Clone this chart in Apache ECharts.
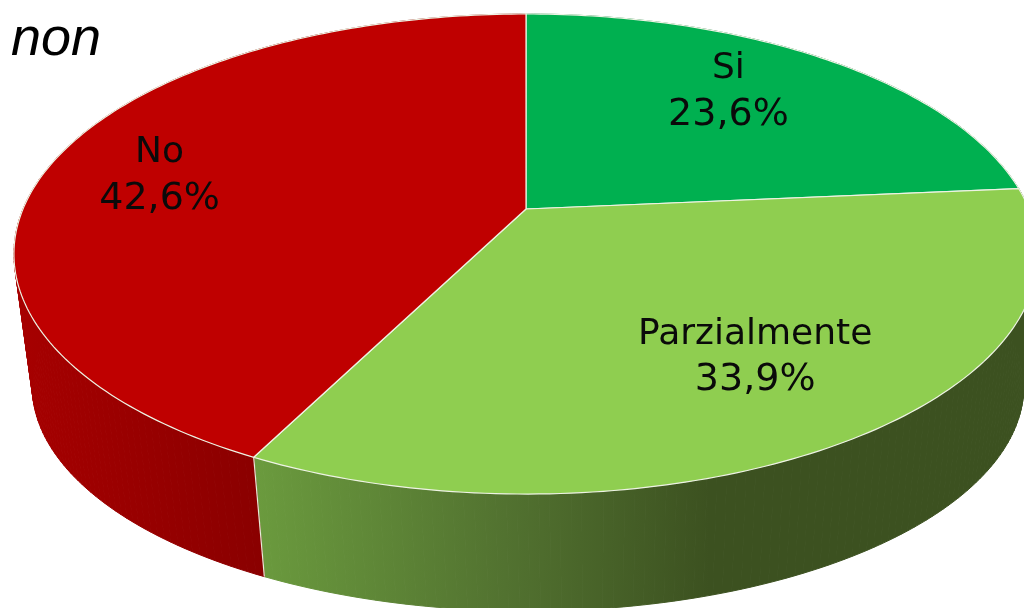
<!DOCTYPE html>
<html>
<head>
<meta charset="utf-8">
<style>html,body{margin:0;padding:0;background:#fff}#c{width:1024px;height:608px}</style>
<script src="https://cdn.jsdelivr.net/npm/echarts@6/dist/echarts.min.js"></script>
</head>
<body>
<div id="c"></div>
<script>
const categories = ['Si', 'Parzialmente', 'No'];
const shares = [23.6, 33.9, 42.6];
const heading = 'non';

const topColors = ['#00B050', '#8FCE50', '#BF0000'];
const wallStops = [
  [[0, '#00803a'], [1, '#00602b']],
  [[0, '#6b9b3e'], [0.55, '#527230'], [1, '#3c5120']],
  [[0, '#a60000'], [1, '#8a0000']]
];
const wallSpan = [[526, 1024], [254, 710], [20, 262]];
// Perspective model of the disc: rim of the top face and rim of the base
const topRim = { cx: 526, cy: 209, a: 503, b: 231.6, k: 0.1875 };
const baseRim = { cx: 528, cy: 344, a: 487, b: 217, k: 0.1875 };
const labelLayout = [
  { r: 0.65, dx: 0, dy: -15 },
  { r: 0.65, dx: 25, dy: 10 },
  { r: 0.75, dx: -11, dy: 6 }
];

const total = shares.reduce((s, v) => s + v, 0);
const startAngles = [];
shares.reduce((acc, v, i) => { startAngles[i] = acc; return acc + v / total * Math.PI * 2; }, 0);

function project(rim, theta, r) {
  const u = Math.sin(theta) * r, v = Math.cos(theta) * r, w = 1 + rim.k * v;
  return [rim.cx + rim.a * u / w, rim.cy - rim.b * v / w];
}
function arc(rim, i) {
  const a0 = startAngles[i], a1 = a0 + shares[i] / total * Math.PI * 2;
  const n = Math.ceil((a1 - a0) / (Math.PI / 180));
  const pts = [];
  for (let s = 0; s <= n; s++) pts.push(project(rim, a0 + (a1 - a0) * s / n, 1));
  return pts;
}
function renderWall(params) {
  const i = params.dataIndex;
  const span = wallSpan[i];
  const top = arc(topRim, i), base = arc(baseRim, i);
  const grad = new echarts.graphic.LinearGradient(span[0], 0, span[1], 0,
    wallStops[i].map(s => ({ offset: s[0], color: s[1] })), true);
  const children = [];
  for (let j = 0; j < top.length - 1; j++) {
    children.push({
      type: 'polygon', silent: true,
      shape: { points: [top[j], top[j + 1], base[j + 1], base[j]] },
      style: { fill: grad, stroke: grad, lineWidth: 1 }
    });
  }
  children.push({
    type: 'line', silent: true, z2: 5,
    shape: { x1: top[0][0], y1: top[0][1], x2: base[0][0], y2: base[0][1] },
    style: { stroke: '#e6ecd8', lineWidth: 1.2 }
  });
  return { type: 'group', children };
}
function renderTop(params) {
  const i = params.dataIndex;
  return {
    type: 'polygon',
    silent: true,
    shape: { points: [project(topRim, 0, 0)].concat(arc(topRim, i)) },
    style: { fill: topColors[i], stroke: '#eef3e4', lineWidth: 1.2 }
  };
}
function renderLabel(params) {
  const i = params.dataIndex;
  const mid = startAngles[i] + shares[i] / total * Math.PI;
  const L = labelLayout[i];
  const p = project(topRim, mid, L.r);
  const pct = shares[i].toFixed(1).replace('.', ',') + '%';
  return {
    type: 'text',
    silent: true,
    style: {
      x: p[0] + L.dx, y: p[1] + L.dy,
      text: '{n|' + categories[i] + '}\n{v|' + pct + '}',
      align: 'center', verticalAlign: 'middle',
      rich: {
        n: { fontFamily: 'DejaVu Sans', fontSize: 36, lineHeight: 46, fill: '#0a0a0a', align: 'center' },
        v: { fontFamily: 'DejaVu Sans', fontSize: 38, lineHeight: 46, fill: '#0a0a0a', align: 'center' }
      }
    }
  };
}
const seriesData = categories.map((c, i) => ({ name: c, value: shares[i] }));
const chart = echarts.init(document.getElementById('c'), null, { renderer: 'canvas' });
chart.setOption({
  animation: false,
  backgroundColor: '#fff',
  title: {
    text: heading, left: 6, top: 8,
    textStyle: { fontFamily: 'Liberation Sans', fontStyle: 'italic', fontWeight: 'normal', fontSize: 54, color: '#000' }
  },
  series: [
    { type: 'custom', coordinateSystem: 'none', renderItem: renderWall, data: seriesData, z: 1, clip: false },
    { type: 'custom', coordinateSystem: 'none', renderItem: renderTop, data: seriesData, z: 2, clip: false },
    { type: 'custom', coordinateSystem: 'none', renderItem: renderLabel, data: seriesData, z: 3, clip: false }
  ]
});
</script>
</body>
</html>
